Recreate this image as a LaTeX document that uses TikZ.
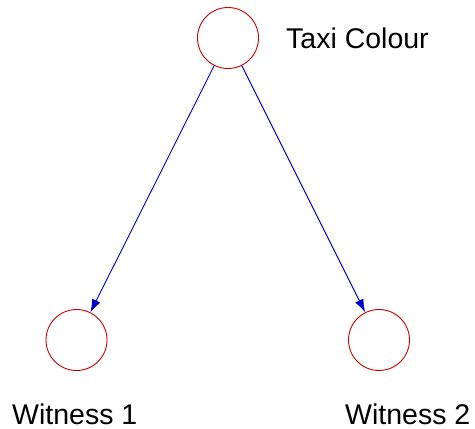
\documentclass[tikz,border=0pt]{standalone}
\usepackage{fontspec}
\setmainfont{Liberation Sans}
\usetikzlibrary{arrows.meta}
\definecolor{nodered}{RGB}{204,0,0}
\definecolor{edgeblue}{RGB}{0,0,204}
\tikzset{
  varnode/.style={circle, draw=nodered, line width=0.9pt, minimum size=61pt, inner sep=0pt},
  lbl/.style={anchor=base west, inner sep=0pt, font=\fontsize{28.5}{34}\selectfont},
  edge/.style={draw=edgeblue, line width=0.9pt, -{Latex[length=13pt,width=9pt]}}
}
\begin{document}
\begin{tikzpicture}[x=1pt,y=-1pt]
\useasboundingbox (0,0) rectangle (475,429);
\node[varnode] (taxi) at (228,38) {};
\node[varnode] (w1) at (76.5,340) {};
\node[varnode] (w2) at (379,340) {};
\node[lbl] (ltaxi) at (286,48) {Taxi Colour};
\node[lbl] (lw1) at (12,424) {Witness 1};
\node[lbl] (lw2) at (345,424) {Witness 2};
\draw[edge] (taxi) -- (w1);
\draw[edge] (taxi) -- (w2);
\end{tikzpicture}
\end{document}
